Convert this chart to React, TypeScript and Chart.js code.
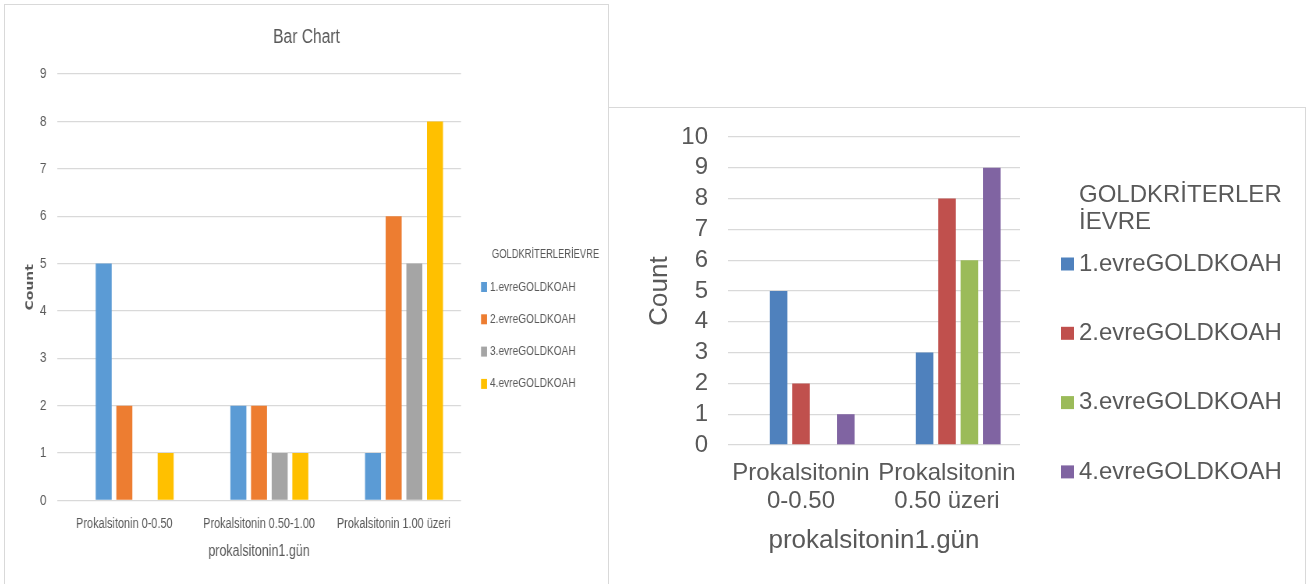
import React, { useEffect, useRef } from 'react';
import { Chart, registerables } from 'chart.js';

Chart.register(...registerables);

// ---------- Data: left chart ----------
const leftCategories = ['Prokalsitonin 0-0.50', 'Prokalsitonin 0.50-1.00', 'Prokalsitonin 1.00 üzeri'];
const leftStage1 = [5, 2, 1];
const leftStage2 = [2, 2, 6];
const leftStage3 = [0, 1, 5];
const leftStage4 = [1, 1, 8];
const leftEmpty = [null, null, null];
const leftYTicks = [0, 9];

// ---------- Data: right chart ----------
const rightCategories = [['Prokalsitonin', '0-0.50'], ['Prokalsitonin', '0.50 üzeri']];
const rightStage1 = [5, 3];
const rightStage2 = [2, 8];
const rightStage3 = [0, 6];
const rightStage4 = [1, 9];
const rightEmpty = [null, null];
const rightYTicks = [0, 10];

const seriesLabels = ['1.evreGOLDKOAH', '2.evreGOLDKOAH', '3.evreGOLDKOAH', '4.evreGOLDKOAH'];
const leftColors = ['#5B9BD5', '#ED7D31', '#A5A5A5', '#FFC000'];
const rightColors = ['#4F81BD', '#C0504D', '#9BBB59', '#8064A2'];

const TEXT = '#595959';
const GRID = '#d9d9d9';
const ARIAL = "'Liberation Sans', Arial, sans-serif";

// left chart is drawn wider and condensed horizontally (narrow look of the reference)
const SX = 0.78;
const LW = 603;
const LWL = Math.round(LW / SX);

type LegendCfg = {
  titleLines: string[];
  titleX: number;
  titleY: number;
  titleLineHeight: number;
  titleFont: string;
  itemFont: string;
  boxX: number;
  boxW: number;
  boxH: number;
  textX: number;
  itemY: number;
  itemGap: number;
};

function makeLegend(cfg: LegendCfg) {
  return {
    id: 'customLegend',
    afterDraw(chart: any) {
      const ctx = chart.ctx;
      ctx.save();
      ctx.textBaseline = 'middle';
      ctx.textAlign = 'left';
      ctx.fillStyle = TEXT;
      ctx.font = cfg.titleFont;
      cfg.titleLines.forEach((t, i) => ctx.fillText(t, cfg.titleX, cfg.titleY + i * cfg.titleLineHeight));
      ctx.font = cfg.itemFont;
      let k = 0;
      chart.data.datasets.forEach((ds: any) => {
        if (!ds.label) return;
        const y = cfg.itemY + k * cfg.itemGap;
        ctx.fillStyle = ds.backgroundColor;
        ctx.fillRect(cfg.boxX, y - cfg.boxH / 2, cfg.boxW, cfg.boxH);
        ctx.fillStyle = TEXT;
        ctx.fillText(ds.label, cfg.textX, y);
        k++;
      });
      ctx.restore();
    },
  };
}

function buildDatasets(empty: (number | null)[], series: number[][], colors: string[], catPct: number, barPct: number) {
  const ds: any[] = [
    { label: '', data: empty, backgroundColor: 'rgba(0,0,0,0)', categoryPercentage: catPct, barPercentage: barPct },
  ];
  series.forEach((d, i) => {
    ds.push({
      label: seriesLabels[i],
      data: d,
      backgroundColor: colors[i],
      borderWidth: 0,
      categoryPercentage: catPct,
      barPercentage: barPct,
    });
  });
  return ds;
}

const px = (v: number) => v / SX; // visible px -> logical canvas px (left chart)

function noPad(s: any) {
  s.paddingTop = 0;
  s.paddingBottom = 0;
}

function leftConfig(): any {
  const plotLeft = px(52);
  const plotRight = px(456);
  return {
    type: 'bar',
    data: {
      labels: leftCategories,
      datasets: buildDatasets(leftEmpty, [leftStage1, leftStage2, leftStage3, leftStage4], leftColors, 0.767, 0.774),
    },
    options: {
      animation: false,
      responsive: false,
      maintainAspectRatio: false,
      layout: { padding: { left: 0, right: 0, top: 0, bottom: 34.5 } },
      plugins: {
        legend: { display: false },
        tooltip: { enabled: false },
        title: {
          display: true,
          text: 'Bar Chart',
          color: TEXT,
          font: { family: ARIAL, size: 20, weight: 'normal' },
          padding: { top: 20, bottom: 25 },
        },
      },
      scales: {
        x: {
          grid: { display: false, drawTicks: false },
          border: { display: false },
          ticks: { color: TEXT, font: { family: ARIAL, size: 14 }, padding: 15.1, maxRotation: 0, autoSkip: false },
          title: {
            display: true,
            text: 'prokalsitonin1.gün',
            color: TEXT,
            font: { family: ARIAL, size: 16 },
            padding: { top: 0, bottom: 9.2 },
          },
          afterFit(s: any) {
            s.height = 70;
            s.paddingLeft = 0;
            s.paddingRight = 0;
          },
        },
        y: {
          min: leftYTicks[0],
          max: leftYTicks[1],
          ticks: { stepSize: 1, autoSkip: false, color: TEXT, font: { family: ARIAL, size: 15 }, padding: px(10.5) },
          grid: { color: GRID, drawTicks: false, lineWidth: 1.3 },
          border: { display: false },
          title: {
            display: true,
            text: 'Count',
            color: TEXT,
            font: { family: "'DejaVu Sans', sans-serif", size: 14, weight: 'bold' },
            padding: { top: px(25) - 8.4, bottom: 0 },
          },
          afterFit(s: any) {
            s.width = plotLeft;
            noPad(s);
          },
        },
        yRight: {
          position: 'right',
          display: true,
          min: leftYTicks[0],
          max: leftYTicks[1],
          grid: { display: false, drawTicks: false },
          border: { display: false },
          ticks: { display: false },
          afterFit(s: any) {
            s.width = LWL - plotRight;
            noPad(s);
          },
        },
      },
    },
    plugins: [
      makeLegend({
        titleLines: ['GOLDKRİTERLERİEVRE'],
        titleX: px(487),
        titleY: 250,
        titleLineHeight: 14,
        titleFont: `12px ${ARIAL}`,
        itemFont: `13px ${ARIAL}`,
        boxX: px(476),
        boxW: px(6),
        boxH: 10,
        textX: px(485),
        itemY: 282,
        itemGap: 32.3,
      }),
    ],
  };
}

function rightConfig(): any {
  return {
    type: 'bar',
    data: {
      labels: rightCategories,
      datasets: buildDatasets(rightEmpty, [rightStage1, rightStage2, rightStage3, rightStage4], rightColors, 0.7675, 0.784),
    },
    options: {
      animation: false,
      responsive: false,
      maintainAspectRatio: false,
      layout: { padding: { left: 31, right: 285, top: 29, bottom: 24 } },
      plugins: {
        legend: { display: false },
        tooltip: { enabled: false },
        title: { display: false },
      },
      scales: {
        x: {
          grid: { display: false, drawTicks: false },
          border: { display: false },
          ticks: { color: TEXT, font: { family: ARIAL, size: 24 }, padding: 13.6, maxRotation: 0, autoSkip: false },
          title: {
            display: true,
            text: 'prokalsitonin1.gün',
            color: TEXT,
            font: { family: ARIAL, size: 26 },
            padding: { top: 0, bottom: 3.4 },
          },
          afterFit(s: any) {
            s.height = 115;
            s.paddingLeft = 0;
            s.paddingRight = 0;
          },
        },
        y: {
          min: rightYTicks[0],
          max: rightYTicks[1],
          ticks: { stepSize: 1, autoSkip: false, color: TEXT, font: { family: ARIAL, size: 24 }, padding: 20 },
          grid: { color: GRID, drawTicks: false, lineWidth: 1.3 },
          border: { display: false },
          title: {
            display: true,
            text: 'Count',
            color: TEXT,
            font: { family: ARIAL, size: 26 },
            padding: { top: 4.4, bottom: 0 },
          },
          afterFit(s: any) {
            s.width = 88;
            noPad(s);
          },
        },
      },
    },
    plugins: [
      makeLegend({
        titleLines: ['GOLDKRİTERLER', 'İEVRE'],
        titleX: 470,
        titleY: 87,
        titleLineHeight: 27,
        titleFont: `24px ${ARIAL}`,
        itemFont: `24px ${ARIAL}`,
        boxX: 452,
        boxW: 13,
        boxH: 13,
        textX: 470,
        itemY: 156,
        itemGap: 69.3,
      }),
    ],
  };
}

function ChartCanvas({ width, height, build, scaleX = 1 }: { width: number; height: number; build: () => any; scaleX?: number }) {
  const ref = useRef<HTMLCanvasElement | null>(null);
  useEffect(() => {
    if (!ref.current) return;
    const chart = new Chart(ref.current, build());
    return () => chart.destroy();
  }, []);
  return (
    <canvas
      ref={ref}
      width={width}
      height={height}
      style={{
        width,
        height,
        display: 'block',
        transform: scaleX !== 1 ? `scaleX(${scaleX})` : undefined,
        transformOrigin: '0 0',
      }}
    />
  );
}

export default function App() {
  return (
    <div style={{ position: 'fixed', left: 0, top: 0, width: '100vw', height: '100vh', overflow: 'hidden', background: '#fff' }}>
      <div
        style={{
          position: 'absolute',
          left: 4,
          top: 4,
          width: 605,
          height: 620,
          boxSizing: 'border-box',
          border: `1px solid ${GRID}`,
          background: '#fff',
          overflow: 'hidden',
        }}
      >
        <ChartCanvas width={LWL} height={600} build={leftConfig} scaleX={SX} />
      </div>
      <div
        style={{
          position: 'absolute',
          left: 608,
          top: 107,
          width: 698,
          height: 520,
          boxSizing: 'border-box',
          border: `1px solid ${GRID}`,
          background: '#fff',
        }}
      >
        <ChartCanvas width={696} height={476} build={rightConfig} />
      </div>
    </div>
  );
}
